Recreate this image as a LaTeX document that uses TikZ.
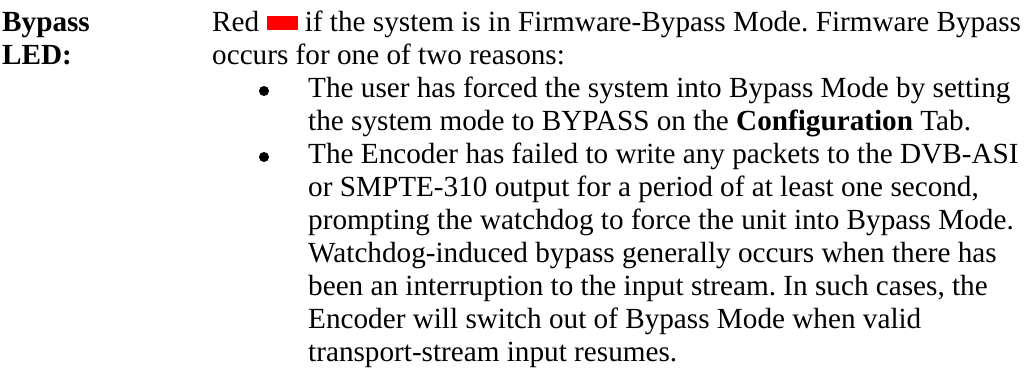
\documentclass[tikz,border=0pt]{standalone}
\usepackage{fontspec}
\setmainfont{Liberation Serif}
\usetikzlibrary{positioning}
\definecolor{ledred}{RGB}{255, 0, 0}
\newcommand{\ledbox}{\textcolor{ledred}{\rule[1pt]{31pt}{14.5pt}}}
\tikzset{
    txt/.style={anchor=base west, inner sep=0pt, font=\fontsize{29.2}{33}\selectfont\frenchspacing},
    hd/.style={txt, font=\fontsize{29.2}{33}\selectfont\bfseries},
    dot/.style={circle, fill=black, inner sep=0pt, minimum size=10pt}
}

\begin{document}
\begin{tikzpicture}[x=1pt, y=-1pt]
    \useasboundingbox (0,0) rectangle (1029,375);

    % Label column
    \node[hd] (lab1) at (2,31) {Bypass};
    \node[hd] (lab2) at (2,64) {LED:};

    % Description
    \node[txt] (l1) at (212,31) {Red \ledbox{} if the system is in Firmware-Bypass Mode. Firmware Bypass};
    \node[txt] (l2) at (212,64) {occurs for one of two reasons:};

    % First reason
    \node[dot] (b1) at (264,91) {};
    \node[txt] (l3) at (308,97) {The user has forced the system into Bypass Mode by setting};
    \node[txt] (l4) at (308,130) {the system mode to BYPASS on the \textbf{Configuration} Tab.};

    % Second reason
    \node[dot] (b2) at (264,157) {};
    \node[txt] (l5) at (308,163) {The Encoder has failed to write any packets to the DVB-ASI};
    \node[txt] (l6) at (308,196) {or SMPTE-310 output for a period of at least one second,};
    \node[txt] (l7) at (308,229) {prompting the watchdog to force the unit into Bypass Mode.};
    \node[txt] (l8) at (308,262) {Watchdog-induced bypass generally occurs when there has};
    \node[txt] (l9) at (308,295) {been an interruption to the input stream. In such cases, the};
    \node[txt] (l10) at (308,328) {Encoder will switch out of Bypass Mode when valid};
    \node[txt] (l11) at (308,361) {transport-stream input resumes.};
\end{tikzpicture}
\end{document}
